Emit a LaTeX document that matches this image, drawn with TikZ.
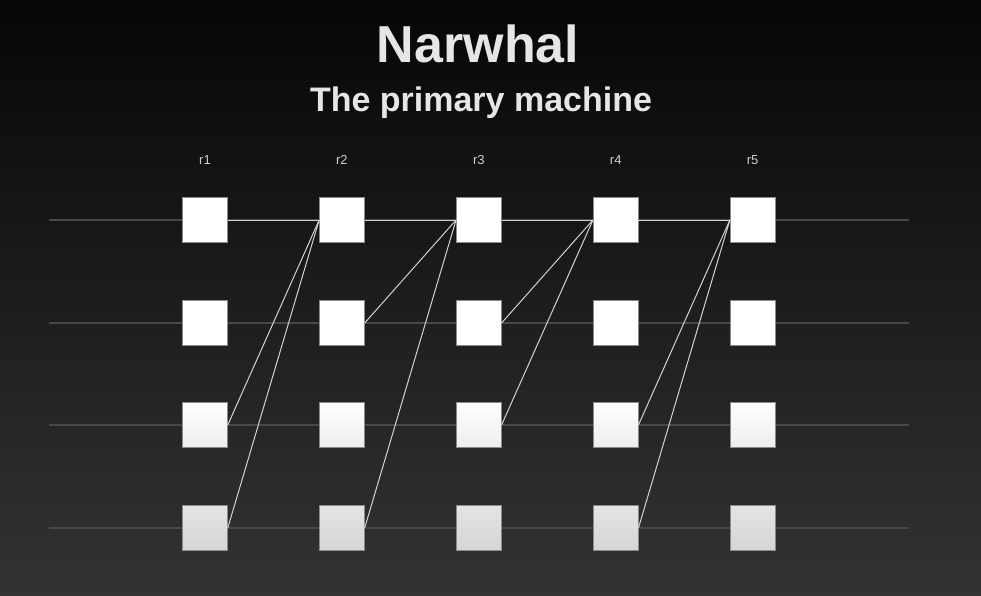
\documentclass[tikz,border=0pt]{standalone}
\usepackage{fontspec}
\setmainfont{Liberation Sans}
\definecolor{bgtop}{HTML}{060606}
\definecolor{bgbot}{HTML}{333333}
\definecolor{dimline}{HTML}{484848}
\definecolor{lnkcol}{HTML}{D2D2D2}
\definecolor{lblcol}{HTML}{D0D0D0}
\definecolor{titlecol}{HTML}{E6E6E6}
\definecolor{sqedge}{HTML}{8A8A8A}
\definecolor{sqthreeb}{HTML}{EDEDED}
\definecolor{sqfourt}{HTML}{E4E4E4}
\definecolor{sqfourb}{HTML}{D6D6D6}
\begin{document}
\begin{tikzpicture}[x=1pt,y=-1pt,
  sq/.style={draw=sqedge, line width=0.5pt, minimum size=45pt, inner sep=0pt, fill=white},
  rowthree/.style={top color=white, bottom color=sqthreeb},
  rowfour/.style={top color=sqfourt, bottom color=sqfourb},
  dim/.style={draw=dimline, line width=1.1pt},
  lnk/.style={draw=lnkcol, line width=1pt},
  lbl/.style={text=lblcol, anchor=base, font=\fontsize{13}{13}\selectfont}]
\shade[top color=bgtop,bottom color=bgbot] (0,0) rectangle (981,595);
\useasboundingbox (0,0) rectangle (981,595);

\node[anchor=base, text=titlecol, font=\bfseries\fontsize{52}{52}\selectfont] (title) at (478,62.7) {Narwhal};
\node[anchor=base, text=titlecol, font=\bfseries\fontsize{34}{34}\selectfont] (subtitle) at (481,111) {The primary machine};

\foreach \j/\y in {1/220,2/323,3/425,4/528} {
  \coordinate (L\j) at (49,\y);
  \coordinate (R\j) at (909,\y);
  \draw[dim] (L\j) -- (R\j);
}

\foreach \i in {1,...,5} {
  \pgfmathsetmacro{\cx}{205+136.9*(\i-1)}
  \node[lbl] (lab\i) at (\cx,164) {r\i};
  \node[sq] (c\i1) at (\cx,220) {};
  \node[sq] (c\i2) at (\cx,323) {};
  \node[sq, rowthree] (c\i3) at (\cx,425) {};
  \node[sq, rowfour] (c\i4) at (\cx,528) {};
}

% top row links
\draw[lnk] (c11.east) -- (c21.west);
\draw[lnk] (c21.east) -- (c31.west);
\draw[lnk] (c31.east) -- (c41.west);
\draw[lnk] (c41.east) -- (c51.west);

% diagonal links
\draw[lnk] (c13.east) -- (c21.west);
\draw[lnk] (c14.east) -- (c21.west);
\draw[lnk] (c22.east) -- (c31.west);
\draw[lnk] (c24.east) -- (c31.west);
\draw[lnk] (c32.east) -- (c41.west);
\draw[lnk] (c33.east) -- (c41.west);
\draw[lnk] (c43.east) -- (c51.west);
\draw[lnk] (c44.east) -- (c51.west);
\end{tikzpicture}
\end{document}
